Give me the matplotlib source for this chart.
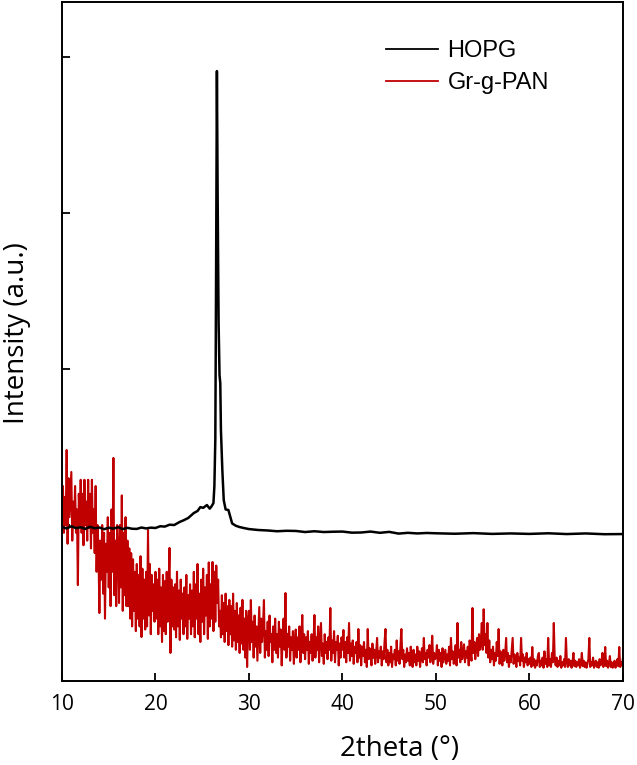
import numpy as np
import matplotlib
matplotlib.use("Agg")
import matplotlib.pyplot as plt

# HOPG trace (2theta, intensity a.u.)
hopg_theta = [10, 10.5, 11, 11.5, 12, 12.5, 13, 13.5, 14, 14.5, 15, 15.5, 16, 16.5, 17,
              17.5, 18, 18.5, 19, 19.5, 20, 20.5, 21, 21.5, 22, 22.6, 23, 23.5,
              24.1, 24.5, 24.8, 25.1, 25.5, 25.8, 26.0, 26.2, 26.3, 26.4, 26.47,
              26.57, 26.65, 26.75, 26.85, 26.93, 27.0, 27.15, 27.3, 27.5, 27.8,
              28.2, 28.6, 29, 29.5, 30, 31, 32, 33, 34, 35, 36, 37, 38, 39, 40,
              41, 42, 43, 44, 45, 46, 47, 48, 49, 50, 52, 54, 56, 58, 60, 62, 64,
              66, 68, 70]
hopg_int = [987, 978, 992, 980, 986, 975, 989, 979, 984, 973, 983, 977, 986, 974, 982,
            976, 975, 984, 978, 983, 981, 992, 990, 1002, 1000, 1020, 1030, 1045,
            1077, 1090, 1115, 1110, 1128, 1105, 1120, 1141, 1250, 1550, 2442,
            3910, 3100, 2300, 1960, 1910, 1609, 1353, 1160, 1100, 1096,
            1010, 995, 987, 980, 974, 968, 965, 960, 963, 962, 955, 960, 955, 957, 958,
            951, 952, 958, 950, 956, 945, 950, 946, 949, 947, 944, 948, 943, 946, 943,
            947, 942, 946, 941, 942]

# Gr-g-PAN trace, read every 0.1 deg from 10 to 70
pan_rows = [
    [1100, 1250, 950, 1180, 1000, 1481, 880, 1300, 1050, 1200],
    [1340, 900, 1150, 1000, 1250, 950, 1100, 615, 1200, 1000],
    [1290, 950, 1200, 870, 1290, 1000, 1150, 900, 1290, 980],
    [1200, 850, 1290, 950, 1100, 820, 1250, 700, 1000, 850],
    [436, 900, 650, 1000, 560, 950, 400, 880, 700, 1050],
    [600, 950, 480, 1100, 700, 1430, 550, 900, 480, 1000],
    [850, 500, 1000, 600, 1190, 450, 950, 550, 1050, 480],
    [900, 480, 850, 400, 820, 350, 780, 450, 700, 320],
    [750, 400, 680, 350, 800, 282, 720, 400, 650, 330],
    [700, 350, 968, 420, 750, 300, 680, 450, 620, 380],
    [700, 400, 650, 300, 720, 350, 600, 250, 680, 320],
    [640, 300, 700, 380, 600, 853, 180, 650, 350, 600],
    [330, 620, 280, 700, 350, 580, 263, 650, 400, 560],
    [300, 600, 350, 680, 270, 550, 400, 620, 300, 580],
    [350, 700, 280, 620, 400, 750, 300, 560, 250, 650],
    [380, 720, 300, 600, 420, 680, 270, 760, 350, 620],
    [400, 763, 320, 700, 380, 740, 500, 650, 350, 450],
    [280, 550, 300, 500, 250, 560, 320, 480, 230, 520],
    [300, 480, 220, 560, 260, 450, 200, 500, 250, 420],
    [180, 470, 240, 520, 200, 400, 150, 450, 90, 380],
    [450, 200, 519, 250, 380, 150, 420, 220, 350, 130],
    [300, 474, 180, 400, 250, 350, 519, 150, 320, 200],
    [380, 160, 420, 250, 300, 120, 350, 200, 400, 180],
    [300, 150, 380, 220, 330, 100, 280, 400, 200, 564],
    [150, 300, 220, 350, 130, 280, 200, 320, 110, 250],
    [330, 150, 280, 200, 350, 120, 260, 423, 180, 300],
    [140, 280, 200, 320, 110, 250, 180, 300, 130, 240],
    [423, 150, 280, 200, 350, 120, 260, 372, 160, 240],
    [110, 300, 180, 250, 140, 280, 200, 468, 130, 260],
    [180, 320, 120, 250, 200, 290, 100, 240, 150, 280],
    [200, 327, 150, 250, 120, 280, 180, 372, 130, 240],
    [160, 260, 110, 220, 180, 250, 120, 333, 150, 230],
    [100, 220, 160, 250, 120, 200, 90, 333, 140, 210],
    [170, 100, 240, 150, 200, 110, 180, 276, 120, 190],
    [150, 220, 100, 190, 140, 250, 333, 120, 200, 100],
    [180, 120, 220, 90, 170, 140, 200, 100, 260, 130],
    [190, 110, 230, 333, 140, 200, 90, 170, 120, 210],
    [130, 180, 100, 220, 150, 90, 200, 120, 170, 100],
    [220, 130, 190, 90, 160, 210, 120, 276, 140, 180],
    [100, 200, 150, 230, 120, 190, 290, 110, 180, 140],
    [150, 230, 100, 200, 130, 180, 90, 210, 120, 160],
    [200, 110, 170, 130, 220, 100, 276, 140, 190, 110],
    [160, 230, 100, 372, 150, 200, 120, 250, 140, 180],
    [235, 120, 190, 150, 220, 100, 260, 180, 130, 468],
    [180, 250, 140, 220, 276, 160, 300, 200, 250, 372],
    [200, 460, 230, 300, 180, 372, 150, 260, 120, 200],
    [140, 220, 100, 180, 130, 250, 160, 333, 110, 190],
    [150, 100, 200, 130, 170, 276, 120, 180, 90, 160],
    [120, 200, 276, 110, 170, 140, 90, 180, 130, 150],
    [100, 276, 130, 170, 90, 150, 120, 180, 100, 140],
    [110, 150, 90, 218, 100, 140, 85, 130, 100, 160],
    [180, 90, 130, 100, 150, 85, 190, 110, 140, 90],
    [276, 100, 140, 90, 180, 120, 372, 140, 100, 150],
    [90, 130, 100, 160, 85, 120, 100, 140, 90, 276],
    [120, 90, 140, 100, 130, 85, 120, 180, 95, 130],
    [90, 120, 100, 140, 85, 110, 180, 95, 130, 90],
    [120, 85, 110, 140, 276, 90, 120, 100, 150, 85],
    [110, 130, 90, 120, 85, 140, 100, 120, 180, 90],
    [120, 218, 95, 130, 85, 110, 160, 90, 120, 85],
    [100, 130, 85, 110, 140, 95, 218, 90, 120, 100],
    [150],
]
pan_int = [v for row in pan_rows for v in row]
pan_theta = np.linspace(10, 70, len(pan_int))

x_ticks = [10, 20, 30, 40, 50, 60, 70]
y_ticks = [1000, 2000, 3000, 4000]

fig = plt.figure(figsize=(6.37, 7.65), dpi=100)
ax = fig.add_axes([0.0973, 0.1098, 0.8807, 0.8876])

ax.plot(pan_theta, pan_int, color='#C00000', lw=1.5, label='Gr-g-PAN', zorder=2)
ax.plot(hopg_theta, hopg_int, color='black', lw=1.8, label='HOPG', zorder=3)

ax.set_xlim(10, 70)
ax.set_ylim(0, 4353)
ax.set_xticks(x_ticks)
ax.set_yticks(y_ticks)
ax.set_yticklabels([])
ax.tick_params(axis='both', direction='in', length=6, width=1.3, top=False, right=False)
ax.tick_params(axis='x', labelsize=15, pad=9)
for lbl in ax.get_xticklabels():
    lbl.set_family('Open Sans')
for sp in ax.spines.values():
    sp.set_linewidth(1.4)

ax.set_xlabel('2theta (°)', fontsize=20, family='Open Sans')
ax.xaxis.set_label_coords(0.602, -0.08)
ax.set_ylabel('Intensity (a.u.)', fontsize=20, family='Open Sans')
ax.yaxis.set_label_coords(-0.056, 0.512)

handles, labels = ax.get_legend_handles_labels()
leg = ax.legend(handles[::-1], labels[::-1], loc='upper left', bbox_to_anchor=(0.54, 0.975),
                frameon=False, prop={'family': 'Liberation Sans', 'size': 17},
                handlelength=2.2, handletextpad=0.4, labelspacing=0.42)
for h in leg.legend_handles:
    h.set_linewidth(1.3)

fig.savefig('out.png', dpi=100)
